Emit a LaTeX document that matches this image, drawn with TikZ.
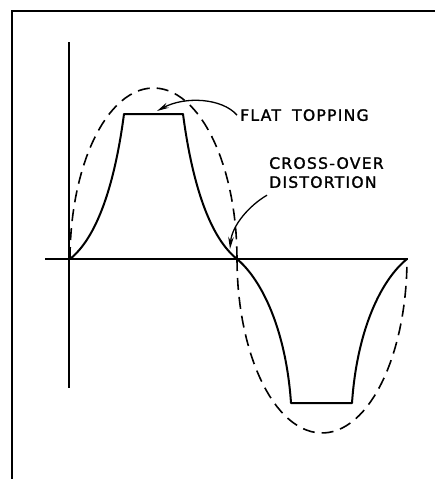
\documentclass[tikz,border=0pt]{standalone}
\usepackage{fontspec}
\setmainfont{DejaVu Sans}
\newfontfamily\letterfont[LetterSpace=8,FakeBold=1.5]{DejaVu Sans}
\usetikzlibrary{arrows.meta}

\begin{document}
\begin{tikzpicture}[x=1pt,y=-1pt,
  axis/.style={line width=1.3pt},
  wave/.style={line width=2pt, line join=round},
  ideal/.style={line width=1.6pt, dash pattern=on 12pt off 7pt},
  lbl/.style={inner sep=0pt, font=\letterfont\fontsize{15.6}{19}\selectfont, align=left},
  pointer/.style={line width=1.3pt, -{Stealth[length=12pt,width=5.5pt]}}]
  \useasboundingbox (0,0) rectangle (435,479);
  % frame
  \draw[line width=1.6pt] (12,479) -- (12,11) -- (435,11);
  % axes
  \draw[axis] (69,42) -- (69,388);
  \draw[axis] (45,259) -- (408,259);
  % ideal sine wave
  \draw[ideal] plot[domain=180:360, samples=60] ({153.5+83.5*cos(\x)}, {259+171*sin(\x)});
  \draw[ideal] plot[domain=0:180, samples=60] ({322-85*cos(\x)}, {259+174*sin(\x)});
  % distorted output
  \draw[wave] (70,259) .. controls (100,235) and (116,175) .. (124,114) -- (183,114)
    .. controls (191,175) and (207,235) .. (237,259)
    .. controls (262,280) and (286,330) .. (291,403) -- (352,403)
    .. controls (357,330) and (381,280) .. (407,259);
  % labels
  \node[lbl, anchor=north west] (flat) at (240,109) {FLAT\hspace{5pt} TOPPING};
  \node[lbl, anchor=north west] (cross) at (269,157) {CROSS-OVER\\DISTORTION};
  \coordinate (flattip) at (157,111);
  \coordinate (crosstip) at (230,249);
  \draw[pointer] ([xshift=-3pt]flat.west) .. controls (222,98) and (185,96) .. (flattip);
  \draw[pointer] ([xshift=-2pt,yshift=-7pt]cross.south west) .. controls (250,205) and (232,225) .. (crosstip);
\end{tikzpicture}
\end{document}
